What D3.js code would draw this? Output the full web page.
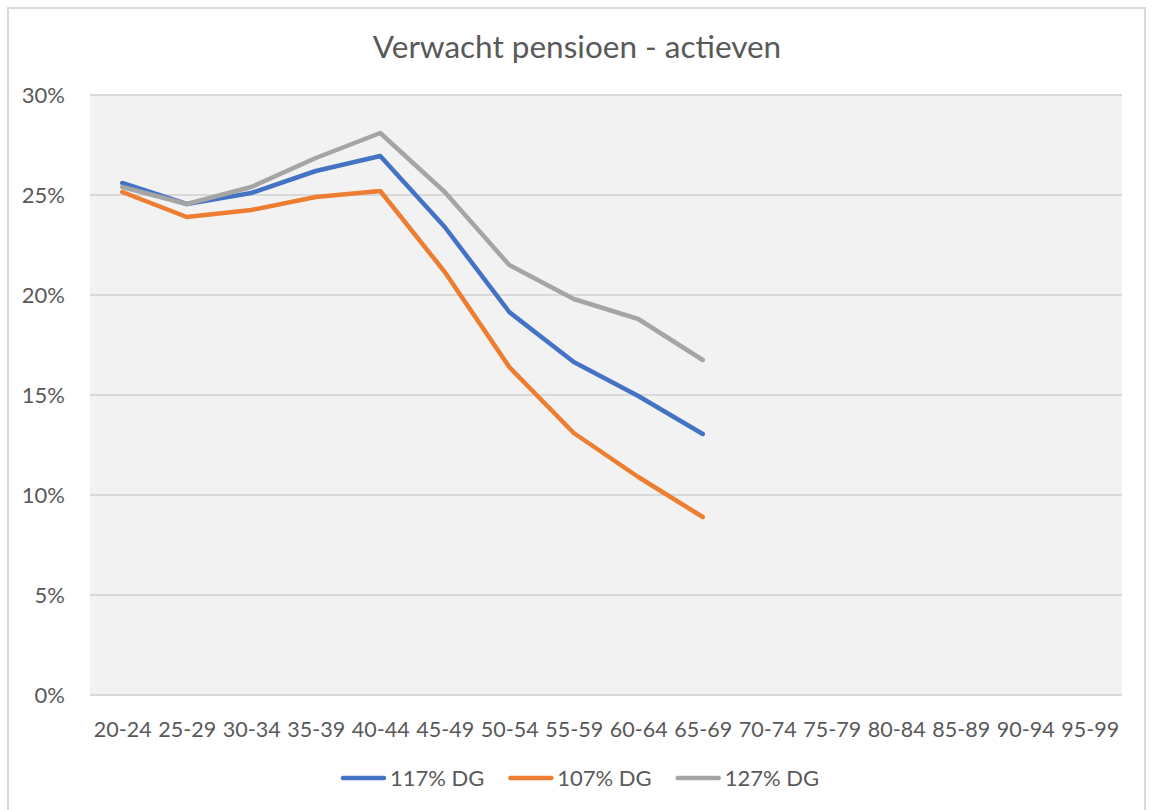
<!DOCTYPE html>
<html>
<head>
<meta charset="utf-8">
<script src="https://cdn.jsdelivr.net/npm/d3@7"></script>
<style>
  body { margin: 0; background: #fff; }
  svg { font-family: Lato, "Open Sans", sans-serif; display: block; }
</style>
</head>
<body>
<svg id="chart" width="1152" height="810"></svg>
<script>
// age groups on the x axis
const ageGroups = ['20-24','25-29','30-34','35-39','40-44','45-49','50-54','55-59','60-64','65-69','70-74','75-79','80-84','85-89','90-94','95-99'];

// series values in percent (only up to 65-69)
const dg117 = [25.6, 24.55, 25.1, 26.2, 26.95, 23.4, 19.15, 16.65, 14.95, 13.05];
const dg107 = [25.15, 23.9, 24.25, 24.9, 25.2, 21.15, 16.4, 13.1, 10.9, 8.9];
const dg127 = [25.4, 24.55, 25.4, 26.85, 28.1, 25.15, 21.5, 19.8, 18.8, 16.75];

const yTicks = [0, 5, 10, 15, 20, 25, 30];
const seriesNames = ['117% DG', '107% DG', '127% DG'];
const seriesColors = ['#4472c4', '#ed7d31', '#a5a5a5'];

const series = [dg117, dg107, dg127].map((vals, i) => ({
  name: seriesNames[i],
  color: seriesColors[i],
  values: vals.map((v, j) => ({ age: ageGroups[j], value: v }))
}));

const svg = d3.select('#chart');
const margin = { top: 95, right: 30, bottom: 115, left: 90 };
const width = +svg.attr('width');
const height = +svg.attr('height');
const innerWidth = width - margin.left - margin.right;
const innerHeight = height - margin.top - margin.bottom;
const textColour = '#595959';
const fontFamily = 'Lato, "Open Sans", sans-serif';

// outer chart frame: left, top and right sides (bottom edge is off the picture)
svg.append('path')
  .attr('d', `M8,${height} V8 H1145 V${height}`)
  .attr('fill', 'none')
  .attr('stroke', '#d9d9d9')
  .attr('stroke-width', 2);

// title
svg.append('text')
  .attr('x', 577).attr('y', 58)
  .attr('text-anchor', 'middle')
  .attr('font-size', 31.5)
  .attr('fill', textColour)
  .text('Verwacht pensioen - actieven');

const g = svg.append('g').attr('transform', `translate(${margin.left},${margin.top})`);

const x = d3.scalePoint().domain(ageGroups).range([0, innerWidth]).padding(0.5);
const y = d3.scaleLinear().domain([0, 30]).range([innerHeight, 0]);

// plot area background
g.append('rect')
  .attr('width', innerWidth).attr('height', innerHeight)
  .attr('fill', '#f2f2f2');

// gridlines
g.selectAll('line.grid').data(yTicks).enter()
  .append('line')
    .attr('class', 'grid')
    .attr('x1', 0).attr('x2', innerWidth)
    .attr('y1', d => y(d)).attr('y2', d => y(d))
    .attr('stroke', '#d9d9d9')
    .attr('stroke-width', 2);

// y axis labels
const yAxis = d3.axisLeft(y).tickValues(yTicks).tickFormat(d => d + '%').tickSize(0).tickPadding(25);
const yG = g.append('g').call(yAxis)
  .attr('font-size', 22).attr('font-family', fontFamily);
yG.select('.domain').remove();
yG.selectAll('text').attr('fill', textColour);

// x axis labels
const xAxis = d3.axisBottom(x).tickSize(0).tickPadding(27);
const xG = g.append('g').attr('transform', `translate(0,${innerHeight})`).call(xAxis)
  .attr('font-size', 21.5).attr('font-family', fontFamily);
xG.select('.domain').remove();
xG.selectAll('text').attr('fill', textColour);

// lines
const line = d3.line().x(d => x(d.age)).y(d => y(d.value));
g.selectAll('path.series').data(series).enter()
  .append('path')
    .attr('class', 'series')
    .attr('d', d => line(d.values))
    .attr('fill', 'none')
    .attr('stroke', d => d.color)
    .attr('stroke-width', 4.5)
    .attr('stroke-linejoin', 'round')
    .attr('stroke-linecap', 'round');

// legend, laid out from measured text widths and centred on the frame
const legend = svg.append('g');
const items = legend.selectAll('g.item').data(series).enter().append('g').attr('class', 'item');
items.append('line')
  .attr('x1', 2).attr('x2', 43).attr('y1', 0).attr('y2', 0)
  .attr('stroke', d => d.color).attr('stroke-width', 4.5).attr('stroke-linecap', 'round');
items.append('text')
  .attr('x', 49).attr('y', 8)
  .attr('font-size', 22).attr('fill', textColour)
  .text(d => d.name);

const itemGap = 26;
let offset = 0;
items.each(function () {
  const w = this.getBBox().width;
  d3.select(this).attr('transform', `translate(${offset},0)`);
  offset += w + itemGap;
});
const total = offset - itemGap;
legend.attr('transform', `translate(${579 - total / 2},778)`);
</script>
</body>
</html>
